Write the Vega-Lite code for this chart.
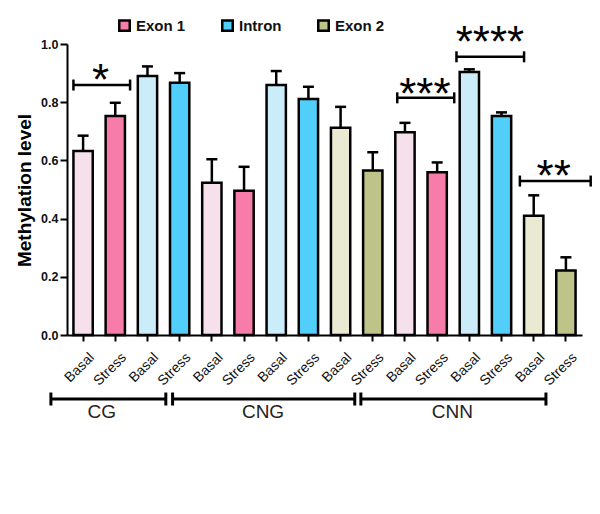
{
  "$schema": "https://vega.github.io/schema/vega-lite/v6.json",
  "width": 515,
  "height": 291,
  "autosize": {"type": "none"},
  "padding": {"left": 67, "top": 44, "right": 18, "bottom": 179},
  "config": {"font": "Liberation Sans", "view": {"stroke": null}, "axis": {"grid": false}},
  "datasets": {
    "bars": [
      {"key": "CG|Exon 1|Basal", "series": "Exon 1 (Basal)", "value": 0.632, "err": 0.685},
      {"key": "CG|Exon 1|Stress", "series": "Exon 1", "value": 0.753, "err": 0.798},
      {"key": "CG|Intron|Basal", "series": "Intron (Basal)", "value": 0.890, "err": 0.923},
      {"key": "CG|Intron|Stress", "series": "Intron", "value": 0.867, "err": 0.900},
      {"key": "CNG|Exon 1|Basal", "series": "Exon 1 (Basal)", "value": 0.523, "err": 0.604},
      {"key": "CNG|Exon 1|Stress", "series": "Exon 1", "value": 0.496, "err": 0.578},
      {"key": "CNG|Intron|Basal", "series": "Intron (Basal)", "value": 0.859, "err": 0.907},
      {"key": "CNG|Intron|Stress", "series": "Intron", "value": 0.811, "err": 0.853},
      {"key": "CNG|Exon 2|Basal", "series": "Exon 2 (Basal)", "value": 0.712, "err": 0.784},
      {"key": "CNG|Exon 2|Stress", "series": "Exon 2", "value": 0.565, "err": 0.628},
      {"key": "CNN|Exon 1|Basal", "series": "Exon 1 (Basal)", "value": 0.697, "err": 0.729},
      {"key": "CNN|Exon 1|Stress", "series": "Exon 1", "value": 0.559, "err": 0.593},
      {"key": "CNN|Intron|Basal", "series": "Intron (Basal)", "value": 0.904, "err": 0.913},
      {"key": "CNN|Intron|Stress", "series": "Intron", "value": 0.753, "err": 0.765},
      {"key": "CNN|Exon 2|Basal", "series": "Exon 2 (Basal)", "value": 0.410, "err": 0.480},
      {"key": "CNN|Exon 2|Stress", "series": "Exon 2", "value": 0.222, "err": 0.267}
    ],
    "sig": [
      {"x1": 0.2, "x2": 1.96, "y": 0.859, "label": "*", "lx": 1.04, "ly": 0.825},
      {"x1": 10.26, "x2": 12.03, "y": 0.815, "label": "***", "lx": 11.12, "ly": 0.777},
      {"x1": 12.1, "x2": 14.2, "y": 0.956, "label": "****", "lx": 13.14, "ly": 0.955},
      {"x1": 14.07, "x2": 16.27, "y": 0.529, "label": "**", "lx": 15.12, "ly": 0.495}
    ],
    "groups": [
      {"x1": -0.5, "x2": 3.07, "y": -0.22, "label": "CG", "lx": 1.08, "ly": -0.285},
      {"x1": 3.28, "x2": 8.94, "y": -0.22, "label": "CNG", "lx": 6.09, "ly": -0.285},
      {"x1": 9.13, "x2": 14.88, "y": -0.22, "label": "CNN", "lx": 11.97, "ly": -0.285}
    ]
  },
  "layer": [
    {
      "data": {"name": "bars"},
      "layer": [
        {
          "mark": {"type": "bar", "stroke": "black", "strokeWidth": 2.5, "opacity": 1},
          "encoding": {
            "x": {
              "field": "key", "type": "nominal", "sort": null,
              "scale": {"paddingInner": 0.4, "paddingOuter": 0.2},
              "axis": {
                "title": null,
                "labelExpr": "split(datum.value, '|')[2]",
                "labelAngle": -45, "labelAlign": "right", "labelBaseline": "top",
                "labelOffset": 4, "labelPadding": 9,
                "labelFontSize": 14, "labelColor": "#111",
                "tickSize": 6, "tickWidth": 2, "tickColor": "black",
                "domainColor": "black", "domainWidth": 2
              }
            },
            "y": {
              "field": "value", "type": "quantitative",
              "scale": {"domain": [0, 1], "nice": false},
              "title": "Methylation level",
              "axis": {
                "values": [0, 0.2, 0.4, 0.6, 0.8, 1], "format": ".1f",
                "labelFontWeight": "bold", "labelFontSize": 12.5, "labelColor": "#111", "labelPadding": 2,
                "tickSize": 7, "tickWidth": 2, "tickColor": "black",
                "domainColor": "black", "domainWidth": 2,
                "titleFontSize": 19, "titleFontWeight": "bold", "titleColor": "black",
                "titleX": -33, "titleY": 146, "titleAngle": -90, "titleBaseline": "bottom", "titleAlign": "center"
              }
            },
            "fill": {
              "field": "series", "type": "nominal",
              "scale": {
                "domain": ["Exon 1", "Intron", "Exon 2", "Exon 1 (Basal)", "Intron (Basal)", "Exon 2 (Basal)"],
                "range": ["#F87CAA", "#52CEFB", "#BEC38A", "#F6E0EC", "#CBEDF9", "#EAEAD3"]
              },
              "legend": {
                "values": ["Exon 1", "Intron", "Exon 2"],
                "title": null, "orient": "none", "legendX": 50, "legendY": -26,
                "direction": "horizontal", "symbolType": "square", "symbolSize": 110,
                "symbolStrokeColor": "black", "symbolStrokeWidth": 2.5, "symbolOpacity": 1,
                "labelFontSize": 15, "labelFontWeight": "bold", "labelColor": "#111",
                "columnPadding": 31, "labelOffset": 4, "padding": 0
              }
            }
          }
        },
        {
          "mark": {"type": "rule", "strokeWidth": 2.5, "color": "black", "opacity": 1},
          "encoding": {
            "x": {"field": "key", "type": "nominal", "sort": null},
            "y": {"field": "value", "type": "quantitative", "scale": {"domain": [0, 1], "nice": false}, "title": "Methylation level"},
            "y2": {"field": "err"}
          }
        },
        {
          "mark": {"type": "tick", "size": 11, "thickness": 2.5, "color": "black", "opacity": 1},
          "encoding": {
            "x": {"field": "key", "type": "nominal", "sort": null},
            "y": {"field": "err", "type": "quantitative", "scale": {"domain": [0, 1], "nice": false}, "title": "Methylation level"}
          }
        }
      ]
    },
    {
      "layer": [
        {
          "data": {"name": "sig"},
          "mark": {"type": "rule", "strokeWidth": 2.5, "color": "black", "opacity": 1},
          "encoding": {
            "x": {"field": "x1", "type": "quantitative", "scale": {"domain": [0, 16], "nice": false, "zero": false}, "axis": null},
            "x2": {"field": "x2"},
            "y": {"field": "y", "type": "quantitative", "scale": {"domain": [0, 1], "nice": false}, "title": "Methylation level"}
          }
        },
        {
          "data": {"name": "sig"},
          "mark": {"type": "tick", "orient": "vertical", "size": 11, "thickness": 2.5, "color": "black", "opacity": 1},
          "encoding": {
            "x": {"field": "x1", "type": "quantitative", "scale": {"domain": [0, 16], "nice": false, "zero": false}, "axis": null},
            "y": {"field": "y", "type": "quantitative", "scale": {"domain": [0, 1], "nice": false}, "title": "Methylation level"}
          }
        },
        {
          "data": {"name": "sig"},
          "mark": {"type": "tick", "orient": "vertical", "size": 11, "thickness": 2.5, "color": "black", "opacity": 1},
          "encoding": {
            "x": {"field": "x2", "type": "quantitative", "scale": {"domain": [0, 16], "nice": false, "zero": false}, "axis": null},
            "y": {"field": "y", "type": "quantitative", "scale": {"domain": [0, 1], "nice": false}, "title": "Methylation level"}
          }
        },
        {
          "data": {"name": "sig"},
          "mark": {"type": "text", "fontSize": 44, "baseline": "alphabetic", "align": "center", "color": "black", "opacity": 1},
          "encoding": {
            "x": {"field": "lx", "type": "quantitative", "scale": {"domain": [0, 16], "nice": false, "zero": false}, "axis": null},
            "y": {"field": "ly", "type": "quantitative", "scale": {"domain": [0, 1], "nice": false}, "title": "Methylation level"},
            "text": {"field": "label"}
          }
        },
        {
          "data": {"name": "groups"},
          "mark": {"type": "rule", "strokeWidth": 3, "color": "black", "opacity": 1},
          "encoding": {
            "x": {"field": "x1", "type": "quantitative", "scale": {"domain": [0, 16], "nice": false, "zero": false}, "axis": null},
            "x2": {"field": "x2"},
            "y": {"field": "y", "type": "quantitative", "scale": {"domain": [0, 1], "nice": false}, "title": "Methylation level"}
          }
        },
        {
          "data": {"name": "groups"},
          "mark": {"type": "tick", "orient": "vertical", "size": 13, "thickness": 3, "color": "black", "opacity": 1},
          "encoding": {
            "x": {"field": "x1", "type": "quantitative", "scale": {"domain": [0, 16], "nice": false, "zero": false}, "axis": null},
            "y": {"field": "y", "type": "quantitative", "scale": {"domain": [0, 1], "nice": false}, "title": "Methylation level"}
          }
        },
        {
          "data": {"name": "groups"},
          "mark": {"type": "tick", "orient": "vertical", "size": 13, "thickness": 3, "color": "black", "opacity": 1},
          "encoding": {
            "x": {"field": "x2", "type": "quantitative", "scale": {"domain": [0, 16], "nice": false, "zero": false}, "axis": null},
            "y": {"field": "y", "type": "quantitative", "scale": {"domain": [0, 1], "nice": false}, "title": "Methylation level"}
          }
        },
        {
          "data": {"name": "groups"},
          "mark": {"type": "text", "fontSize": 19, "baseline": "alphabetic", "align": "center", "color": "#222", "opacity": 1},
          "encoding": {
            "x": {"field": "lx", "type": "quantitative", "scale": {"domain": [0, 16], "nice": false, "zero": false}, "axis": null},
            "y": {"field": "ly", "type": "quantitative", "scale": {"domain": [0, 1], "nice": false}, "title": "Methylation level"},
            "text": {"field": "label"}
          }
        }
      ]
    }
  ],
  "resolve": {"scale": {"x": "independent"}}
}
